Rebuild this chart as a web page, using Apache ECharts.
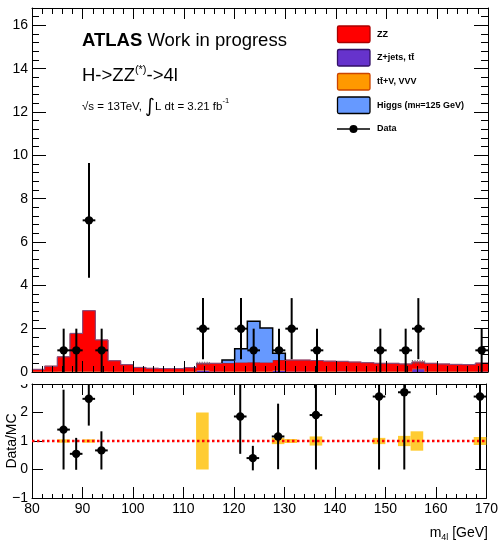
<!DOCTYPE html>
<html><head><meta charset="utf-8">
<script src="https://cdn.jsdelivr.net/npm/echarts@6/dist/echarts.min.js"></script>
<style>html,body{margin:0;padding:0;background:#fff}#c{width:501px;height:544px}</style>
</head><body><div id="c"></div>
<script>
const F = '"Liberation Sans", Arial, Helvetica, sans-serif';

// ---- data ----
const binCenters = [81.25,83.75,86.25,88.75,91.25,93.75,96.25,98.75,101.25,103.75,106.25,108.75,111.25,113.75,116.25,118.75,121.25,123.75,126.25,128.75,131.25,133.75,136.25,138.75,141.25,143.75,146.25,148.75,151.25,153.75,156.25,158.75,161.25,163.75,166.25,168.75];
const binHalf = 1.25;
const zjets = [0.01,0.01,0.02,0.02,0.02,0.02,0.01,0.01,0.01,0.01,0.01,0.01,0.02,0.08,0.03,0.02,0.02,0.02,0.02,0.07,0.03,0.03,0.02,0.02,0.04,0.02,0.02,0.02,0.02,0.02,0.14,0.02,0.02,0.02,0.02,0.03];
const ttv   = [0.01,0.01,0.01,0.01,0.01,0.01,0.01,0.01,0.01,0.01,0.01,0.01,0.01,0.01,0.01,0.01,0.01,0.01,0.01,0.01,0.01,0.01,0.01,0.01,0.01,0.01,0.01,0.01,0.01,0.01,0.01,0.01,0.01,0.01,0.01,0.01];
const zz    = [0.10,0.25,0.67,1.75,2.80,1.45,0.50,0.32,0.19,0.15,0.14,0.14,0.17,0.31,0.36,0.38,0.41,0.42,0.41,0.47,0.51,0.51,0.50,0.47,0.44,0.43,0.40,0.37,0.37,0.34,0.31,0.37,0.34,0.32,0.31,0.37];
const higgs = [0,0,0,0,0,0,0,0,0,0,0,0,0,0,0,0.14,0.63,1.89,1.59,0.31,0,0,0,0,0,0,0,0,0,0,0,0,0,0,0,0];
const mcUnc = [0,0,0,0,0,0,0,0,0,0,0,0,0,0.05,0,0,0,0,0,0,0,0,0,0,0,0,0,0,0,0,0.06,0,0,0,0,0];
const dataCounts = [0,0,1,1,7,1,0,0,0,0,0,0,0,2,0,0,2,1,0,1,2,0,1,0,0,0,0,1,0,1,2,0,0,0,0,1];
const dataErr    = [0,0,1,1,2.65,1,0,0,0,0,0,0,0,1.41,0,0,1.41,1,0,1,1.41,0,1,0,0,0,0,1,0,1,1.41,0,0,0,0,1];
const ratioVal = [null,null,1.40,0.55,2.48,0.67,null,null,null,null,null,null,null,null,null,null,1.86,0.40,null,1.16,null,null,1.91,null,null,null,null,2.56,null,2.71,null,null,null,null,null,2.56];
const ratioErr = [0,0,1.40,0.56,0.94,0.67,0,0,0,0,0,0,0,0,0,0,1.31,0.43,0,1.15,0,0,1.91,0,0,0,0,2.56,0,2.71,0,0,0,0,0,2.56];
const ratioBand = [0,0,0.06,0,0.06,0,0,0,0,0,0,0,0,1.0,0,0,0,0,0,0.11,0.07,0,0.16,0,0,0,0,0.11,0,0.18,0.34,0,0,0,0,0.14];
const xRange = [80, 170], xStep = 10;
const yMainRange = [0, 16.8], yMainStep = 2;
const yRatioRange = [-1, 3], yRatioStep = 1;

// ---- cumulative stack ----
const n = binCenters.length;
const base0 = new Array(n).fill(0);
const top1 = zjets.map((v,i)=>base0[i]+v);
const top2 = ttv.map((v,i)=>top1[i]+v);
const top3 = zz.map((v,i)=>top2[i]+v);
const top4 = higgs.map((v,i)=>top3[i]+v);

function layer(lo, hi, fill, stroke, strokeW, onlyNonZero) {
  return {type:'custom', xAxisIndex:0, yAxisIndex:0, silent:true, z:2, data:[[80,0]],
    renderItem:(params, api) => {
      const pts = [], bot = [];
      for (let i=0;i<n;i++){
        const a = binCenters[i]-binHalf, b = binCenters[i]+binHalf;
        pts.push(api.coord([a, hi[i]]), api.coord([b, hi[i]]));
        bot.push(api.coord([a, lo[i]]), api.coord([b, lo[i]]));
      }
      const poly = pts.concat(bot.slice().reverse());
      const children = [{type:'polygon', shape:{points:poly}, style:{fill:fill, stroke:fill, lineWidth:0.3}}];
      if (stroke) {
        let line = pts;
        if (onlyNonZero) {
          let f=-1,l=-1;
          for (let i=0;i<n;i++){ if (hi[i]-lo[i]>0){ if(f<0) f=i; l=i; } }
          line = [api.coord([binCenters[f]-binHalf, lo[f]])];
          for (let i=f;i<=l;i++) line.push(api.coord([binCenters[i]-binHalf, hi[i]]), api.coord([binCenters[i]+binHalf, hi[i]]));
          line.push(api.coord([binCenters[l]+binHalf, lo[l+1]]));
        }
        children.push({type:'polyline', shape:{points:line}, style:{stroke:stroke, lineWidth:strokeW, fill:'none'}});
      }
      return {type:'group', children};
    }};
}

function errSeries(xi, yi, vals, errs, ymin, ymax) {
  const items = [];
  binCenters.forEach((c,i)=>{ if (vals[i]!=null && vals[i]>0) items.push([c, vals[i], errs[i]]); });
  return {type:'custom', xAxisIndex:xi, yAxisIndex:yi, z:6, silent:true, data:items,
    renderItem:(p, api)=>{
      const x=api.value(0), y=api.value(1), e=api.value(2);
      const yt=Math.min(y+e,ymax), yb=Math.max(y-e,ymin);
      const c=api.coord([x,y]), t=api.coord([x,yt]), b=api.coord([x,yb]);
      const l=api.coord([x-binHalf,y]), r=api.coord([x+binHalf,y]);
      return {type:'group', children:[
        {type:'line', shape:{x1:c[0],y1:t[1],x2:c[0],y2:b[1]}, style:{stroke:'#000', lineWidth:2}},
        {type:'line', shape:{x1:l[0],y1:c[1],x2:r[0],y2:c[1]}, style:{stroke:'#000', lineWidth:2}},
        {type:'circle', shape:{cx:c[0],cy:c[1],r:4.2}, style:{fill:'#000'}}
      ]};
    }};
}

const uncItems = [];
binCenters.forEach((c,i)=>{ if (mcUnc[i]>0) uncItems.push([c, top4[i], mcUnc[i]]); });
const uncSeries = {type:'custom', xAxisIndex:0, yAxisIndex:0, z:3, silent:true, data:uncItems,
  renderItem:(p, api)=>{
    const x=api.value(0), y=api.value(1), u=api.value(2);
    const a=api.coord([x-binHalf, y+u]), b=api.coord([x+binHalf, y-u]);
    return {type:'rect', shape:{x:a[0], y:a[1], width:b[0]-a[0], height:b[1]-a[1]},
      style:{fill:'rgba(0,0,0,0)', stroke:'#555', lineWidth:1, lineDash:[1,1.5]}};
  }};

const bandItems = [];
binCenters.forEach((c,i)=>{ if (ratioBand[i]>0) bandItems.push([c, ratioBand[i]]); });
const bandSeries = {type:'custom', xAxisIndex:2, yAxisIndex:2, z:3, silent:true, data:bandItems,
  renderItem:(p, api)=>{
    const x=api.value(0), w=api.value(1);
    const a=api.coord([x-binHalf, 1+w]), b=api.coord([x+binHalf, 1-w]);
    return {type:'rect', shape:{x:a[0], y:a[1], width:b[0]-a[0], height:b[1]-a[1]}, style:{fill:'#ffcc33'}};
  }};

function xAx(grid, pos, labels, majorLen, minorLen) {
  return {type:'value', gridIndex:grid, position:pos, min:xRange[0], max:xRange[1], interval:xStep, z:10,
    axisLine:{show:true, onZero:false, lineStyle:{color:'#000', width:1}},
    axisTick:{show:true, inside:true, length:majorLen, lineStyle:{color:'#000', width:1}},
    minorTick:{show:true, splitNumber:5, length:minorLen, lineStyle:{color:'#000', width:1}},
    splitLine:{show:false}, minorSplitLine:{show:false},
    axisLabel:{show:labels, color:'#000', fontSize:14, fontFamily:F, margin:4}};
}
function yAx(grid, pos, labels, range, step, majorLen, minor, z) {
  return {type:'value', gridIndex:grid, position:pos, min:range[0], max:range[1], interval:step, z:z,
    axisLine:{show:true, onZero:false, lineStyle:{color:'#000', width:1}},
    axisTick:{show:true, inside:true, length:majorLen, lineStyle:{color:'#000', width:1}},
    minorTick:{show:minor>0, splitNumber:5, length:minor, lineStyle:{color:'#000', width:1}},
    splitLine:{show:false}, minorSplitLine:{show:false},
    axisLabel:{show:labels, color:'#000', fontSize:14, fontFamily:F, margin:4, showMaxLabel: range[1]%step===0,
      formatter:(v)=> v<0 ? '\u2212'+Math.abs(v) : String(v)}};
}

const chart = echarts.init(document.getElementById('c'), null, {renderer:'canvas'});
const legendY = [26, 49.5, 73.5, 97];
const legendItems = [
  {fill:'#ff0000', stroke:'#aa0000', text:'ZZ'},
  {fill:'#6633cc', stroke:'#331166', text:'Z+jets, t\u0074\u0304'},
  {fill:'#ff9900', stroke:'#cc4400', text:'t\u0074\u0304+V, VVV'},
  {fill:'#6699ff', stroke:'#000000', text:'Higgs (m{s|H}=125 GeV)'}
];
const graphics = [];
legendItems.forEach((it, k)=>{
  graphics.push({type:'rect', z:20, shape:{x:337.5, y:legendY[k], width:32.5, height:16.5, r:1.5}, style:{fill:it.fill, stroke:it.stroke, lineWidth:1.3}});
  graphics.push({type:'text', z:20, style:{x:377, y:legendY[k]+8.5, text:it.text, fontSize:9, fontWeight:'bold', fontFamily:F, fill:'#000', verticalAlign:'middle',
    rich:{s:{fontSize:6.5, fontWeight:'bold', fontFamily:F, verticalAlign:'bottom', lineHeight:6, padding:[4,0,0,0]}}}});
});
graphics.push({type:'line', z:20, shape:{x1:337, y1:129, x2:370, y2:129}, style:{stroke:'#000', lineWidth:1.5}});
graphics.push({type:'circle', z:20, shape:{cx:353.5, cy:129, r:4}, style:{fill:'#000'}});
graphics.push({type:'text', z:20, style:{x:377, y:129, text:'Data', fontSize:9, fontWeight:'bold', fontFamily:F, fill:'#000', verticalAlign:'middle'}});

graphics.push({type:'text', z:20, style:{x:82, y:41, text:'{b|ATLAS} Work in progress', fontSize:18.5, fontFamily:F, fill:'#000', verticalAlign:'middle',
  rich:{b:{fontSize:18.5, fontWeight:'bold', fontFamily:F}}}});
graphics.push({type:'text', z:20, style:{x:82, y:76, text:'H->ZZ{s|(*)}->4l', fontSize:18.5, fontFamily:F, fill:'#000', verticalAlign:'middle', lineHeight:24,
  rich:{s:{fontSize:11, fontFamily:F, verticalAlign:'top', lineHeight:13}}}});
graphics.push({type:'text', z:20, style:{x:82, y:107, text:'\u221As = 13TeV, {i|\u222B}L dt = 3.21 fb{s|-1}', fontSize:11.5, fontFamily:F, fill:'#000', verticalAlign:'middle', lineHeight:20,
  rich:{i:{fontSize:19, fontFamily:'"DejaVu Sans", sans-serif', lineHeight:20}, s:{fontSize:7.5, fontFamily:F, verticalAlign:'top', lineHeight:13}}}});
graphics.push({type:'text', z:20, style:{x:488, y:533, text:'m{s|4l} [GeV]', fontSize:14, fontFamily:F, fill:'#000', align:'right', verticalAlign:'middle', lineHeight:18,
  rich:{s:{fontSize:9, fontFamily:F, verticalAlign:'bottom', lineHeight:10}}}});
graphics.push({type:'text', z:20, x:12, y:441, rotation:Math.PI/2, style:{x:0, y:0, text:'Data/MC', fontSize:14, fontFamily:F, fill:'#000', align:'center', verticalAlign:'middle'}});
graphics.push({type:'rect', z:100, zlevel:0, shape:{x:0, y:377.5, width:31, height:6.5}, style:{fill:'#fff'}});

chart.setOption({
  animation:false,
  backgroundColor:'#fff',
  grid:[
    {left:32, right:13, top:8, height:364, show:false},
    {left:32, right:13, top:384, height:114, show:false}
  ],
  xAxis:[
    xAx(0,'bottom',false,11,6), xAx(0,'top',false,11,6),
    xAx(1,'bottom',true,11,4), xAx(1,'top',false,11,4)
  ],
  yAxis:[
    yAx(0,'left',true,yMainRange,yMainStep,14,7,12), yAx(0,'right',false,yMainRange,yMainStep,14,7,12),
    yAx(1,'left',true,yRatioRange,yRatioStep,11,0,1), yAx(1,'right',false,yRatioRange,yRatioStep,11,0,1)
  ],
  graphic:{elements:graphics},
  series:[
    layer(base0, top1, '#6633cc', null, 0, false),
    layer(top1, top2, '#ff9900', null, 0, false),
    layer(top2, top3, '#ff0000', '#a00000', 1, false),
    layer(top3, top4, '#6699ff', '#000000', 1.5, true),
    uncSeries,
    errSeries(0, 0, dataCounts, dataErr, yMainRange[0], yMainRange[1]),
    bandSeries,
    {type:'line', xAxisIndex:2, yAxisIndex:2, z:4, silent:true, symbol:'none', data:[[xRange[0],1],[xRange[1],1]],
      lineStyle:{color:'#ff0000', width:2.5, type:[2.5,2.5]}},
    errSeries(2, 2, ratioVal, ratioErr, yRatioRange[0], yRatioRange[1])
  ]
});
</script></body></html>
